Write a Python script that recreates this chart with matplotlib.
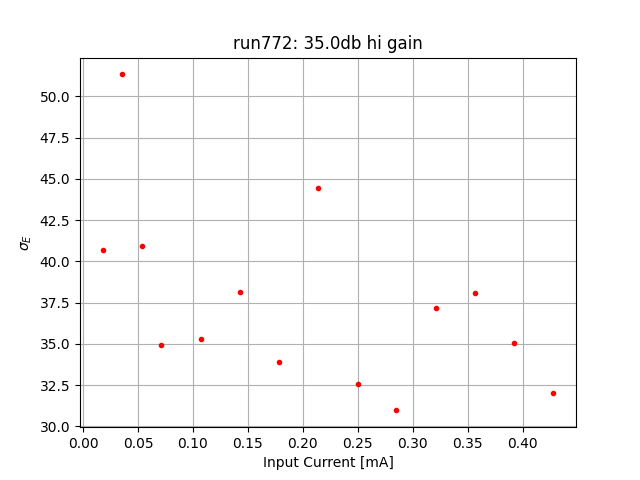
import matplotlib
matplotlib.use("Agg")
from matplotlib import pyplot as plt
from matplotlib.ticker import MultipleLocator

current = [0.0178, 0.0357, 0.0535, 0.0714, 0.107, 0.143, 0.178,
           0.214, 0.25, 0.285, 0.321, 0.357, 0.392, 0.428]
sigma_e = [40.67, 51.33, 40.91, 34.91, 35.27, 38.12, 33.88,
           44.42, 32.55, 30.97, 37.15, 38.06, 35.03, 32.0]

fig, ax = plt.subplots(figsize=(6.4, 4.8), dpi=100)
ax.plot(current, sigma_e, 'r.')
ax.xaxis.set_major_locator(MultipleLocator(0.05))
ax.set_title("run772: 35.0db hi gain")
ax.set_xlabel("Input Current [mA]")
ax.set_ylabel(r"$\sigma_E$")
ax.grid(True)
fig.savefig("out.png")
